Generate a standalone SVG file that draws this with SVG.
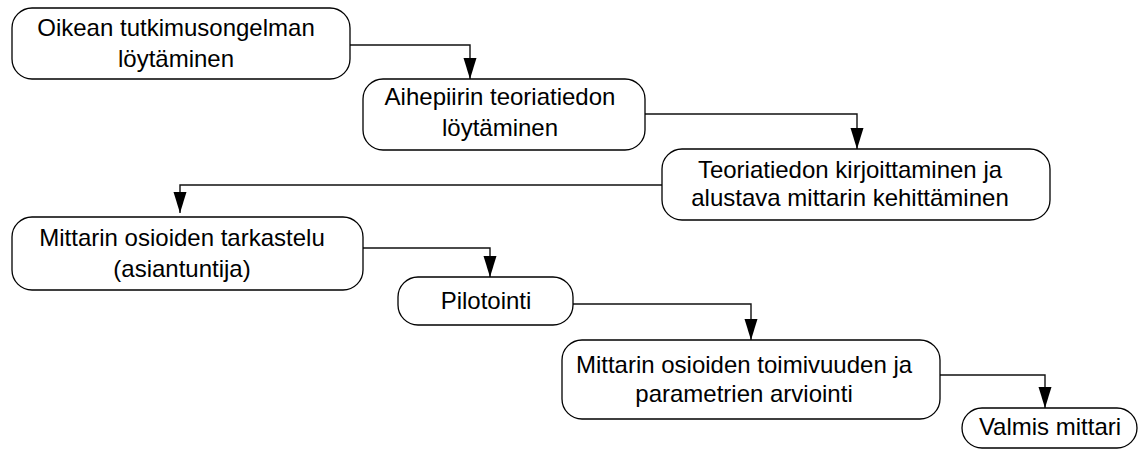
<svg xmlns="http://www.w3.org/2000/svg" width="1138" height="453" viewBox="0 0 1138 453">
<style>
.box{fill:#fff;stroke:#000;stroke-width:1.3}
.lbl{font-family:"Liberation Sans",Arial,sans-serif;font-size:24px;fill:#000;text-anchor:middle}
.conn{fill:none;stroke:#111;stroke-width:1.4}
</style>
<defs>
<marker id="arr" markerUnits="userSpaceOnUse" markerWidth="22" markerHeight="14" refX="21" refY="6.5" orient="auto" viewBox="0 0 22 14">
<path d="M0,0 L21,6.5 L0,13 z" fill="#000"/>
</marker>
</defs>
<rect width="1138" height="453" fill="#fff"/>
<g id="connectors">
<path class="conn" d="M350,45 H470 V79" marker-end="url(#arr)"/>
<path class="conn" d="M645,114 H857 V149" marker-end="url(#arr)"/>
<path class="conn" d="M662,185 H180 V213" marker-end="url(#arr)"/>
<path class="conn" d="M363,248 H490 V277" marker-end="url(#arr)"/>
<path class="conn" d="M573,304 H751 V340" marker-end="url(#arr)"/>
<path class="conn" d="M940,375 H1045 V408" marker-end="url(#arr)"/>
</g>
<g id="n1">
<rect class="box" x="12" y="8" width="338" height="71" rx="20"/>
<text class="lbl" x="176" y="36">Oikean tutkimusongelman</text>
<text class="lbl" x="176" y="67">löytäminen</text>
</g>
<g id="n2">
<rect class="box" x="363" y="79" width="282" height="71" rx="20"/>
<text class="lbl" x="500" y="105">Aihepiirin teoriatiedon</text>
<text class="lbl" x="500" y="136">löytäminen</text>
</g>
<g id="n3">
<rect class="box" x="662" y="149" width="388" height="71" rx="20"/>
<text class="lbl" x="850" y="178">Teoriatiedon kirjoittaminen ja</text>
<text class="lbl" x="850" y="206">alustava mittarin kehittäminen</text>
</g>
<g id="n4">
<rect class="box" x="12" y="217" width="351" height="73" rx="20"/>
<text class="lbl" x="182" y="246">Mittarin osioiden tarkastelu</text>
<text class="lbl" x="182" y="277">(asiantuntija)</text>
</g>
<g id="n5">
<rect class="box" x="398" y="277" width="175" height="48" rx="20"/>
<text class="lbl" x="486" y="309">Pilotointi</text>
</g>
<g id="n6">
<rect class="box" x="562" y="340" width="378" height="79" rx="20"/>
<text class="lbl" x="744" y="373">Mittarin osioiden toimivuuden ja</text>
<text class="lbl" x="744" y="402">parametrien arviointi</text>
</g>
<g id="n7">
<rect class="box" x="962" y="408" width="175" height="40" rx="20"/>
<text class="lbl" x="1050" y="435">Valmis mittari</text>
</g>
</svg>
